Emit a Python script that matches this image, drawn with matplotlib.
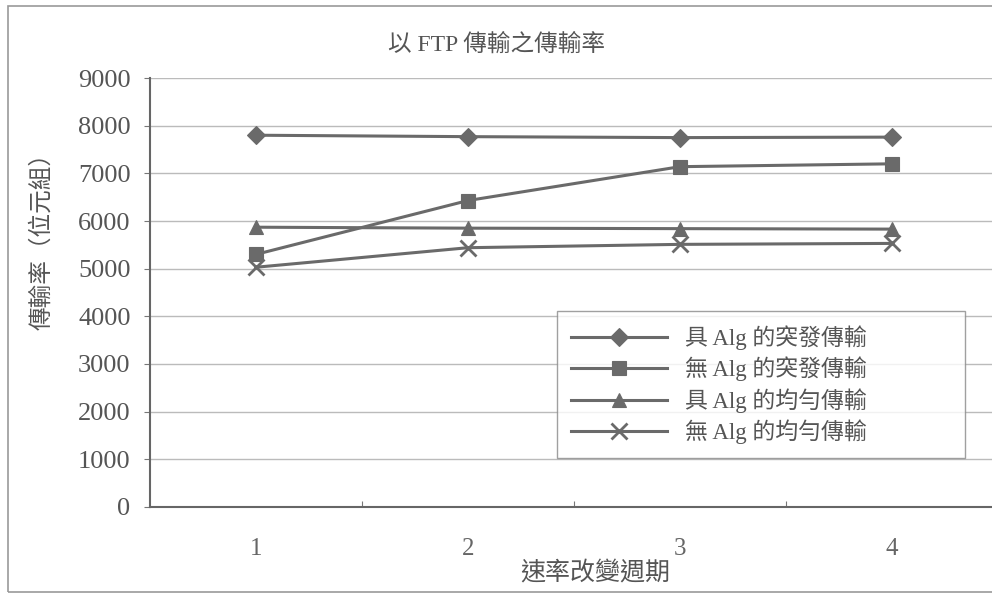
import matplotlib.pyplot as plt
from matplotlib.patches import Rectangle

plt.rcParams['font.family'] = ['Liberation Serif', 'Noto Sans CJK TC']

# 速率改變週期
periods = [1, 2, 3, 4]
# 傳輸率 (位元組)
burst_alg = [7800, 7770, 7750, 7760]
burst_no_alg = [5300, 6430, 7140, 7200]
uniform_alg = [5870, 5850, 5840, 5830]
uniform_no_alg = [5030, 5440, 5510, 5530]

labels = ['具 Alg 的突發傳輸', '無 Alg 的突發傳輸', '具 Alg 的均勻傳輸', '無 Alg 的均勻傳輸']
markers = ['D', 's', '^', 'x']
series = [burst_alg, burst_no_alg, uniform_alg, uniform_no_alg]

fig = plt.figure(figsize=(9.92, 5.97), dpi=100)
ax = fig.add_axes([0.1512, 0.1508, 0.855, 0.7185])

# 外框
fig.patches.append(Rectangle((0.008, 0.008), 1.2, 0.982, transform=fig.transFigure,
                             fill=False, edgecolor='#999999', linewidth=1.2))

xs = list(range(len(periods)))
for ys, m, lab in zip(series, markers, labels):
    ms = 9 if m == 'D' else 10
    if m == 'x':
        ms = 12
    ax.plot(xs, ys, marker=m, markersize=ms, color='#6a6a6a', linewidth=2.2,
            markeredgewidth=2.0 if m == 'x' else 0.8, label=lab)

ax.set_xlim(-0.5, 3.5)
ax.set_ylim(0, 9000)
ax.set_yticks(range(0, 9001, 1000))
ax.yaxis.grid(True, color='#bbbbbb', linewidth=1.0)
ax.set_axisbelow(True)

ax.set_xticks([0.5, 1.5, 2.5])
ax.set_xticklabels([])
ax.set_xticks(xs, minor=True)
ax.set_xticklabels([str(p) for p in periods], minor=True)
ax.tick_params(axis='x', which='major', direction='in', length=4, color='#777777')
ax.tick_params(axis='x', which='minor', length=0, pad=22, labelsize=18, labelcolor='#666666')
ax.tick_params(axis='y', direction='out', length=4, color='#777777', labelsize=19,
               labelcolor='#555555', pad=10)

for s in ['top', 'right']:
    ax.spines[s].set_visible(False)
for s in ['left', 'bottom']:
    ax.spines[s].set_color('#666666')
    ax.spines[s].set_linewidth(1.5)

fig.text(0.50, 0.925, '以 FTP 傳輸之傳輸率', ha='center', va='center', fontsize=17, color='#555555')
fig.text(0.60, 0.04, '速率改變週期', ha='center', va='center', fontsize=18, color='#555555')
fig.text(0.042, 0.605, '傳輸率（位元組）', ha='center', va='center', rotation=90,
         fontsize=17, color='#555555')

leg = ax.legend(loc='lower left', bbox_to_anchor=(0.48, 0.114, 0.481, 0.35), mode='expand',
                borderaxespad=0, fontsize=16.5, frameon=True, fancybox=False, handlelength=4.2,
                labelspacing=0.3, borderpad=0.6, labelcolor='#555555')
leg.get_frame().set_edgecolor('#888888')
leg.get_frame().set_linewidth(1.0)

fig.savefig('out.png', dpi=100)
